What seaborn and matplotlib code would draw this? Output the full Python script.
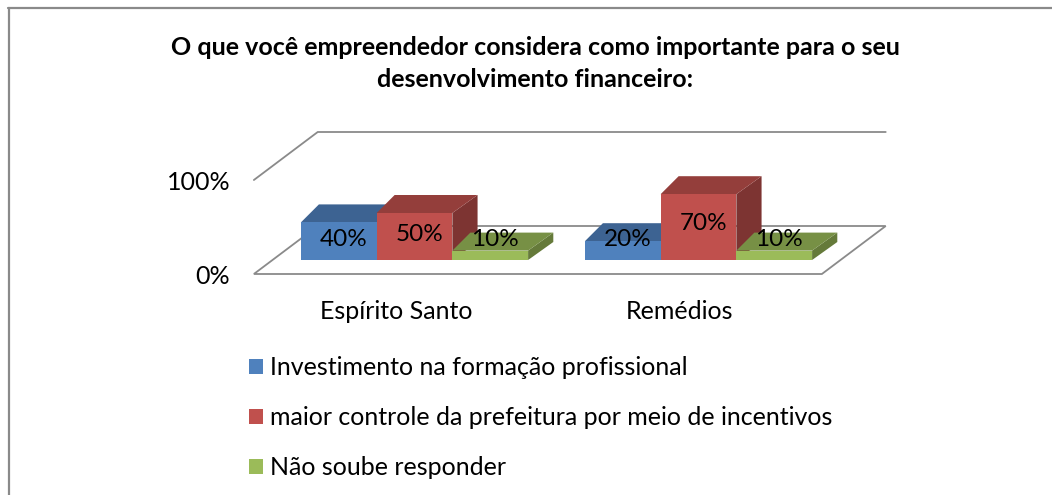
import numpy as np
import pandas as pd
import matplotlib
matplotlib.use("Agg")
import matplotlib.pyplot as plt
import seaborn as sns
from matplotlib.patches import Polygon, Rectangle
from matplotlib.lines import Line2D
from matplotlib.colors import to_rgb

# ---------------- data ----------------
categories = ["Espírito Santo", "Remédios"]
series = [
    "Investimento na formação profissional",
    "maior controle da prefeitura por meio de incentivos",
    "Não soube responder",
]
values_investimento = [40, 20]
values_controle = [50, 70]
values_nao_soube = [10, 10]
y_tick_values = [0, 100]
y_tick_labels = ["0%", "100%"]
title = "O que você empreendedor considera como importante para o seu\ndesenvolvimento financeiro:"
colors = ["#4F81BD", "#C0504D", "#9BBB59"]

df = pd.DataFrame({
    "categoria": categories * 3,
    "serie": np.repeat(series, len(categories)),
    "valor": values_investimento + values_controle + values_nao_soube,
})

# ---------------- style ----------------
sns.set_theme(style="white")
plt.rcParams["font.family"] = ["Lato", "DejaVu Sans"]
plt.rcParams["text.color"] = "black"
plt.rcParams["xtick.color"] = "black"
plt.rcParams["ytick.color"] = "black"
FS = 18
GRAY = "#8a8a8a"

W, H = 1052, 495
fig = plt.figure(figsize=(W / 100, H / 100), dpi=100)

# axes placement in pixels
AX_L, AX_R, AX_T, AX_B = 240, 950, 110, 290
ax = fig.add_axes([AX_L / W, 1 - AX_B / H, (AX_R - AX_L) / W, (AX_B - AX_T) / H])

PX_PER_CAT = 284.0     # pixels per category unit
CAT0_PX = 414.5        # pixel x of first category
BASE_PX = 260.0        # pixel y of bar baseline (front plane)
PX_PER_PCT = 0.94      # pixels per percent

sns.barplot(data=df, x="categoria", y="valor", hue="serie", palette=colors,
            width=0.8, saturation=1, linewidth=0, ax=ax)
bars = sorted([p for p in ax.patches if isinstance(p, Rectangle) and p.get_width() > 0],
              key=lambda p: p.get_x())

ax.set_xlim((AX_L - CAT0_PX) / PX_PER_CAT, (AX_R - CAT0_PX) / PX_PER_CAT)
ax.set_ylim((BASE_PX - AX_B) / PX_PER_PCT, (BASE_PX - AX_T) / PX_PER_PCT)


def dx(p):
    return p / PX_PER_CAT


def dy(p):
    return p / PX_PER_PCT


# oblique depth: per pixel of depth -> (K, +1) on screen (up/right)
K_FLOOR = 1.33
Z_FLOOR_FRONT = -14
Z_FLOOR_BACK = 34
BAR_DEPTH = 18
K_LEFT, K_RIGHT = 1.0, 1.4


def proj(x, y, z, k=K_FLOOR):
    return (x + dx(k * z), y + dy(z))


cat_lo, cat_hi = -0.5, len(categories) - 0.5

# floor (0% plane)
floor = [proj(cat_lo, 0, Z_FLOOR_FRONT), proj(cat_hi, 0, Z_FLOOR_FRONT),
         proj(cat_hi, 0, Z_FLOOR_BACK), proj(cat_lo, 0, Z_FLOOR_BACK)]
ax.add_patch(Polygon(floor, closed=True, facecolor="white", edgecolor=GRAY,
                     linewidth=1.3, zorder=0.5))

# 100% gridline: side wall + back wall
top = y_tick_values[-1]
g = [proj(cat_lo, top, Z_FLOOR_FRONT), proj(cat_lo, top, Z_FLOOR_BACK),
     proj(cat_hi, top, Z_FLOOR_BACK)]
ax.add_line(Line2D([p[0] for p in g], [p[1] for p in g], color=GRAY,
                   linewidth=1.3, zorder=0.5))


def shade(c, f):
    r, g_, b = to_rgb(c)
    return (r * f, g_ * f, b * f)


for i, b in enumerate(bars):
    x0, w, h = b.get_x(), b.get_width(), b.get_height()
    x1 = x0 + w
    col = b.get_facecolor()
    zo = 2 + i
    b.set_zorder(zo + 0.3)
    d = BAR_DEPTH
    top_face = [(x0, h), (x1, h), (x1 + dx(K_RIGHT * d), h + dy(d)),
                (x0 + dx(K_LEFT * d), h + dy(d))]
    side_face = [(x1, 0), (x1, h), (x1 + dx(K_RIGHT * d), h + dy(d)),
                 (x1 + dx(K_RIGHT * d), dy(d))]
    ax.add_patch(Polygon(top_face, closed=True, facecolor=shade(col, 0.77),
                         edgecolor="none", zorder=zo + 0.1))
    ax.add_patch(Polygon(side_face, closed=True, facecolor=shade(col, 0.65),
                         edgecolor="none", zorder=zo))
    lab_y = max(0.55 * h, dy(21))
    ax.text(x0 + w / 2 + dx(5), lab_y, f"{h:.0f}%", ha="center", va="center",
            fontsize=FS - 0.5, color="black", zorder=50)

# category labels on the floor front plane
ax.set_xticks([i + dx(K_FLOOR * Z_FLOOR_FRONT) for i in range(len(categories))])
ax.set_xticklabels(categories, fontsize=FS)
# y tick labels on floor front plane
ax.set_yticks([v + dy(Z_FLOOR_FRONT) for v in y_tick_values])
ax.set_yticklabels(y_tick_labels, fontsize=FS)
ax.tick_params(axis="y", length=0, pad=7)
ax.tick_params(axis="x", length=0, pad=7)
ax.set_xlabel("")
ax.set_ylabel("")
for s in ax.spines.values():
    s.set_visible(False)
ax.grid(False)
ax.patch.set_alpha(0)

# legend
leg = ax.get_legend()
handles = leg.legend_handles
leg.remove()
fig.legend(handles, series, loc="upper left",
           bbox_to_anchor=(249 / W, 1 - 356 / H), frameon=False,
           fontsize=FS, handlelength=0.55, handleheight=0.55,
           handletextpad=0.3, labelspacing=1.08, borderpad=0,
           borderaxespad=0)

# title
fig.text(535 / W, 1 - 63.5 / H, title, ha="center", va="center",
         fontsize=18, fontweight="bold", linespacing=1.47)

# chart border (top and left)
fig.add_artist(Line2D([8 / W, 1], [1 - 8 / H, 1 - 8 / H], color=GRAY,
                      linewidth=1.6, transform=fig.transFigure))
fig.add_artist(Line2D([8.5 / W, 8.5 / W], [0, 1 - 8 / H], color=GRAY,
                      linewidth=1.6, transform=fig.transFigure))

fig.savefig("out.png", dpi=100, facecolor="white")
